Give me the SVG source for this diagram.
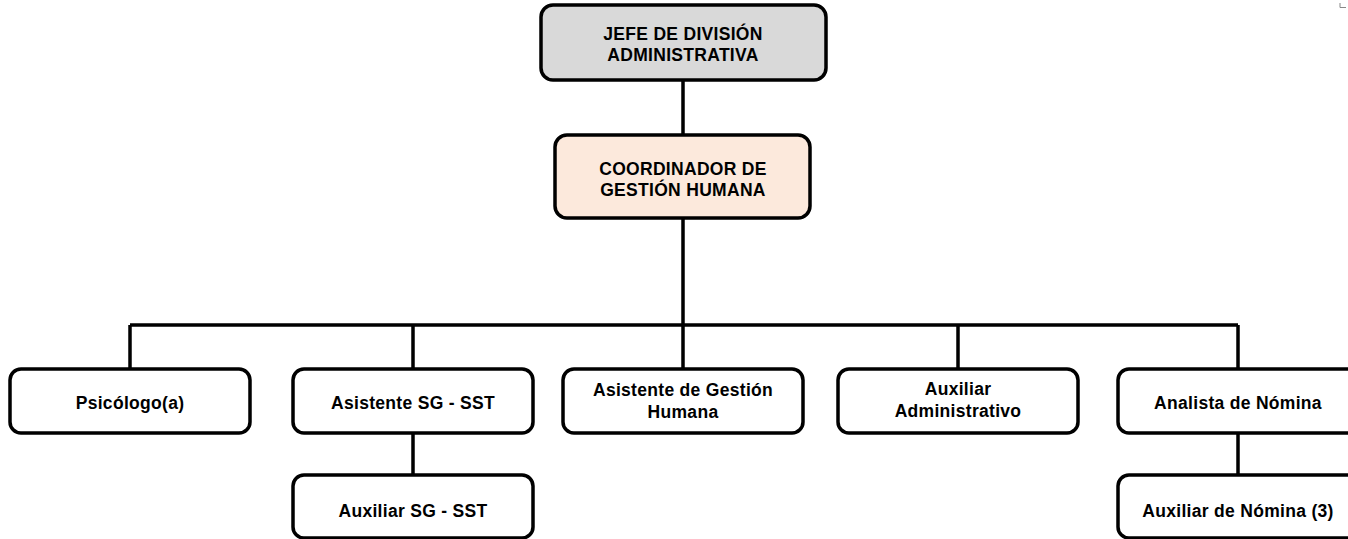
<svg xmlns="http://www.w3.org/2000/svg" width="1348" height="539" viewBox="0 0 1348 539">
<style>
.box{stroke:#000;stroke-width:3.5;fill:#fff}
.top{fill:#d9d9d9}
.coord{fill:#fce9dc}
.ln{stroke:#000;stroke-width:3.5;fill:none}
text{font-family:"Liberation Sans",Arial,sans-serif;font-weight:bold;font-size:17.5px;letter-spacing:0.3px;text-anchor:middle;fill:#000}
</style>
<rect width="1348" height="539" fill="#fff"/>
<g id="connectors">
<path class="ln" d="M683 81V135M683 218V325M130 325H1238M130 325V369M413 325V369M683 325V369M958 325V369M1238 325V369M413 433V475M1238 433V475"/>
</g>
<g id="jefe"><rect class="box top" x="541" y="5" width="285" height="75" rx="12"/><text x="683" y="40">JEFE DE DIVISIÓN</text><text x="683" y="61">ADMINISTRATIVA</text></g>
<g id="coordinador"><rect class="box coord" x="555" y="135" width="255" height="83" rx="12"/><text x="683" y="175">COORDINADOR DE</text><text x="683" y="196">GESTIÓN HUMANA</text></g>
<g id="psicologo"><rect class="box" x="10" y="369" width="240" height="64" rx="11"/><text x="130" y="409">Psicólogo(a)</text></g>
<g id="asistente-sst"><rect class="box" x="293" y="369" width="240" height="64" rx="11"/><text x="413" y="409">Asistente SG - SST</text></g>
<g id="asistente-gh"><rect class="box" x="563" y="369" width="240" height="64" rx="11"/><text x="683" y="396">Asistente de Gestión</text><text x="683" y="418">Humana</text></g>
<g id="auxiliar-adm"><rect class="box" x="838" y="369" width="240" height="64" rx="11"/><text x="958" y="395">Auxiliar</text><text x="958" y="417">Administrativo</text></g>
<g id="analista"><rect class="box" x="1118" y="369" width="240" height="64" rx="11"/><text x="1238" y="409">Analista de Nómina</text></g>
<g id="auxiliar-sst"><rect class="box" x="293" y="475" width="240" height="63" rx="11"/><text x="413" y="517">Auxiliar SG - SST</text></g>
<g id="auxiliar-nomina"><rect class="box" x="1118" y="475" width="240" height="63" rx="11"/><text x="1238" y="517">Auxiliar de Nómina (3)</text></g>
<path d="M1340 3V7.5H1346" stroke="#888" stroke-width="1" fill="none"/>
</svg>
